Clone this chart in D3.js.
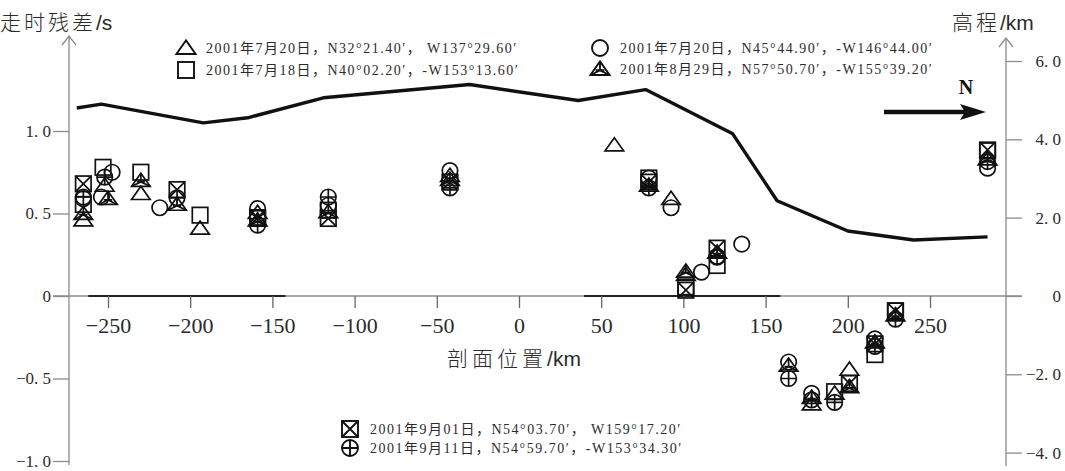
<!DOCTYPE html>
<html>
<head>
<meta charset="utf-8">
<script src="https://cdn.jsdelivr.net/npm/d3@7"></script>
<style>
  html, body { margin: 0; padding: 0; background: #fff; }
  svg { display: block; }
</style>
</head>
<body>
<svg id="chart" width="1065" height="471"></svg>
<script>
// ---- elevation profile along the section (km, km) ----
const profileKm   = [-269, -254, -192, -165, -119, -30, 36, 77, 130, 157, 200, 240, 285];
const profileElev = [4.8, 4.9, 4.42, 4.55, 5.06, 5.4, 4.99, 5.27, 4.14, 2.43, 1.66, 1.43, 1.51];

// dark stretches drawn on the zero line (km)
const baseSegments = [[-262, -142], [39.5, 159]];

// ---- axis ticks ----
const xTicks = [-250, -200, -150, -100, -50, 0, 50, 100, 150, 200, 250];
const resTicks = [1.0, 0.5, 0, -0.5, -1.0];
const resTickLabels = ["1. 0", "0. 5", "0", "\u22120. 5", "\u22121. 0"];
const elevTicks = [6, 4, 2, 0, -2, -4];
const elevTickLabels = ["6. 0", "4. 0", "2. 0", "0", "\u22122. 0", "\u22124. 0"];

// ---- travel-time residuals per event: [profile km, residual s] ----
const ev0720a = [[-265,0.46],[-252,0.67],[-230,0.62],[-194,0.41],[-159,0.505],[-42,0.73],[58,0.915],[92.5,0.59],[101.5,0.13],[178,-0.655],[192,-0.59],[201,-0.445]];
const ev0718  = [[-265,0.555],[-253,0.78],[-230,0.75],[-194,0.49],[-159,0.47],[-116,0.52],[79,0.715],[101.5,0.055],[120.5,0.185],[192,-0.58],[216.5,-0.355],[229,-0.09],[285,0.88]];
const ev0720b = [[-265,0.59],[-247.5,0.75],[-254,0.60],[-218.5,0.535],[-159,0.53],[-116,0.55],[-42,0.76],[79,0.715],[92.5,0.535],[111,0.145],[120.5,0.235],[135.5,0.315],[164,-0.40],[178,-0.59],[216.5,-0.26],[285,0.775]];
const ev0829  = [[-265,0.50],[-250,0.59],[-230,0.70],[-208,0.555],[-159,0.46],[-116,0.51],[-42,0.705],[79,0.67],[101.5,0.15],[120.5,0.265],[164,-0.42],[178,-0.615],[201,-0.55],[216.5,-0.28],[229,-0.115],[285,0.83]];
const ev0901  = [[-265,0.68],[-208,0.645],[-159,0.475],[-116,0.47],[-42,0.69],[79,0.69],[101.5,0.035],[120.5,0.29],[201,-0.53],[216.5,-0.29],[229,-0.09],[285,0.885]];
const ev0911  = [[-265,0.60],[-252,0.72],[-208,0.595],[-159,0.43],[-116,0.60],[-42,0.655],[79,0.655],[120.5,0.24],[164,-0.50],[178,-0.63],[192,-0.645],[216.5,-0.305],[229,-0.14],[285,0.815]];

const eventLabels = [
  "2001年7月20日，N32°21.40′， W137°29.60′",
  "2001年7月18日，N40°02.20′，-W153°13.60′",
  "2001年7月20日，N45°44.90′，-W146°44.00′",
  "2001年8月29日，N57°50.70′，-W155°39.20′",
  "2001年9月01日，N54°03.70′， W159°17.20′",
  "2001年9月11日，N54°59.70′，-W153°34.30′"
];
const eventSymbols = ["triangle", "square", "circle", "triangleStar", "squareX", "circlePlus"];
const eventData = [ev0720a, ev0718, ev0720b, ev0829, ev0901, ev0911];

// ---- layout ----
const svg = d3.select("#chart");
const axisColor = "#8c8c8c";
const textColor = "#2b2b2b";
const serif = "'Liberation Serif','Noto Sans CJK SC',serif";
const cjk = "'Noto Sans CJK SC','Liberation Serif',sans-serif";

const leftX = 69, rightX = 1006, zeroY = 296;

const x = d3.scaleLinear().domain([-250, 250]).range([108, 930]);
const yRes = d3.scaleLinear().domain([-1, 1]).range([461, 131]);
const yElev = d3.scaleLinear().domain([-4, 6]).range([452.6, 61]);

// symbol shapes
function drawSymbol(g, type, s) {
  const h = s / 2;
  if (type === "triangle" || type === "triangleStar") {
    const top = -h * 0.95, bot = h * 0.75, w = h * 1.2;
    g.append("path").attr("d", `M0,${top}L${w},${bot}L${-w},${bot}Z`);
    if (type === "triangleStar") {
      const cy = (top + 2 * bot) / 3;
      g.append("path").attr("d",
        `M0,${top}L0,${cy}M${w},${bot}L0,${cy}M${-w},${bot}L0,${cy}` +
        `M${-w*0.45},${bot - (bot-top)*0.35}L${w*0.45},${bot - (bot-top)*0.35}`);
    }
  } else if (type === "square" || type === "squareX") {
    g.append("rect").attr("x", -h).attr("y", -h).attr("width", s).attr("height", s);
    if (type === "squareX") {
      g.append("path").attr("d", `M${-h},${-h}L${h},${h}M${h},${-h}L${-h},${h}`);
    }
  } else if (type === "circle" || type === "circlePlus") {
    g.append("circle").attr("r", h);
    if (type === "circlePlus") {
      g.append("path").attr("d", `M${-h},0L${h},0M0,${-h}L0,${h}`);
    }
  }
}

// ---- axes ----
// left residual axis
const leftAxis = svg.append("g").attr("transform", `translate(${leftX},0)`)
  .call(d3.axisLeft(yRes).tickValues(resTicks).tickSize(16).tickPadding(2)
        .tickFormat((d, i) => resTickLabels[i]));
leftAxis.select(".domain").remove();
leftAxis.selectAll(".tick line").attr("stroke", axisColor).attr("stroke-width", 1.3);
leftAxis.selectAll(".tick text").attr("font-family", serif).attr("font-size", 17)
  .attr("fill", textColor).attr("dy", "0.3em");
svg.append("path").attr("d", `M${leftX},465L${leftX},36M${leftX-7},45L${leftX},36L${leftX+7},45`)
  .attr("fill", "none").attr("stroke", axisColor).attr("stroke-width", 1.3);

// right elevation axis (labels right-aligned near the edge)
const rightAxis = svg.append("g").attr("transform", `translate(${rightX},0)`)
  .call(d3.axisRight(yElev).tickValues(elevTicks).tickSize(16).tickPadding(40)
        .tickFormat((d, i) => elevTickLabels[i]));
rightAxis.select(".domain").remove();
rightAxis.selectAll(".tick line").attr("stroke", axisColor).attr("stroke-width", 1.3);
rightAxis.selectAll(".tick text").attr("font-family", serif).attr("font-size", 17)
  .attr("fill", textColor).attr("dy", "0.32em").attr("text-anchor", "end").attr("x", 55);
svg.append("path").attr("d", `M${rightX},466L${rightX},38M${rightX-7},47L${rightX},38L${rightX+7},47`)
  .attr("fill", "none").attr("stroke", axisColor).attr("stroke-width", 1.3);

// zero line and bottom distance axis
svg.append("line").attr("x1", leftX - 16).attr("x2", rightX + 16)
  .attr("y1", zeroY).attr("y2", zeroY).attr("stroke", axisColor).attr("stroke-width", 1.3);
svg.append("g").selectAll("line").data(baseSegments).join("line")
  .attr("x1", d => x(d[0])).attr("x2", d => x(d[1]))
  .attr("y1", zeroY).attr("y2", zeroY).attr("stroke", "#222").attr("stroke-width", 1.8);

const bottomAxis = svg.append("g").attr("transform", `translate(0,${zeroY})`)
  .call(d3.axisBottom(x).tickValues(xTicks).tickSize(12).tickPadding(9)
        .tickFormat(d => d < 0 ? "\u2212" + Math.abs(d) : String(d)));
bottomAxis.select(".domain").remove();
bottomAxis.selectAll(".tick line").attr("stroke", "#666").attr("stroke-width", 1.3);
bottomAxis.selectAll(".tick text").attr("font-family", serif).attr("font-size", 22)
  .attr("fill", textColor);

// axis titles
const t1 = svg.append("text").attr("x", 0).attr("y", 30).attr("font-size", 21).attr("fill", textColor);
t1.append("tspan").attr("font-family", cjk).attr("font-weight", 300).attr("letter-spacing", 3).text("走时残差");
t1.append("tspan").attr("font-family", "'Liberation Sans',sans-serif").text("/s");

const t2 = svg.append("text").attr("x", 952).attr("y", 30).attr("font-size", 21).attr("fill", textColor);
t2.append("tspan").attr("font-family", cjk).attr("font-weight", 300).attr("letter-spacing", 3).text("高程");
t2.append("tspan").attr("font-family", "'Liberation Sans',sans-serif").text("/km");

const t3 = svg.append("text").attr("x", 514).attr("y", 366).attr("text-anchor", "middle")
  .attr("font-size", 21).attr("fill", textColor);
t3.append("tspan").attr("font-family", cjk).attr("font-weight", 300).attr("letter-spacing", 4).text("剖面位置");
t3.append("tspan").attr("font-family", "'Liberation Sans',sans-serif").text("/km");

// ---- elevation profile ----
const profile = profileKm.map((k, i) => [k, profileElev[i]]);
svg.append("path").datum(profile)
  .attr("d", d3.line().x(d => x(d[0])).y(d => yElev(d[1])))
  .attr("fill", "none").attr("stroke", "#111").attr("stroke-width", 3.4)
  .attr("stroke-linejoin", "round");

// ---- residual markers ----
const markers = svg.append("g").attr("fill", "none").attr("stroke", "#111").attr("stroke-width", 1.7);
eventData.forEach((pts, e) => {
  pts.forEach(p => {
    const g = markers.append("g").attr("transform", `translate(${x(p[0])},${yRes(p[1])})`);
    drawSymbol(g, eventSymbols[e], 15.5);
  });
});

// ---- north arrow ----
svg.append("text").attr("x", 966).attr("y", 94).attr("text-anchor", "middle")
  .attr("font-family", serif).attr("font-weight", "bold").attr("font-size", 20).attr("fill", "#111").text("N");
svg.append("line").attr("x1", 884).attr("x2", 966).attr("y1", 112).attr("y2", 112)
  .attr("stroke", "#111").attr("stroke-width", 4.5);
svg.append("path").attr("d", "M960,104L986,112L960,120L965,112Z").attr("fill", "#111");

// ---- legend ----
const legendPos = [[186, 48], [186, 70], [600, 48], [600, 69], [350, 429], [350, 448]];
const legend = svg.append("g");
eventLabels.forEach((lab, i) => {
  const [lx, ly] = legendPos[i];
  const g = legend.append("g").attr("transform", `translate(${lx},${ly})`)
    .attr("fill", "none").attr("stroke", "#111").attr("stroke-width", 1.9);
  drawSymbol(g, eventSymbols[i], 16);
  legend.append("text").attr("x", lx + 20).attr("y", ly + 5)
    .attr("font-family", serif).attr("font-size", 14).attr("fill", textColor)
    .attr("letter-spacing", 1.5).text(lab);
});
</script>
</body>
</html>
